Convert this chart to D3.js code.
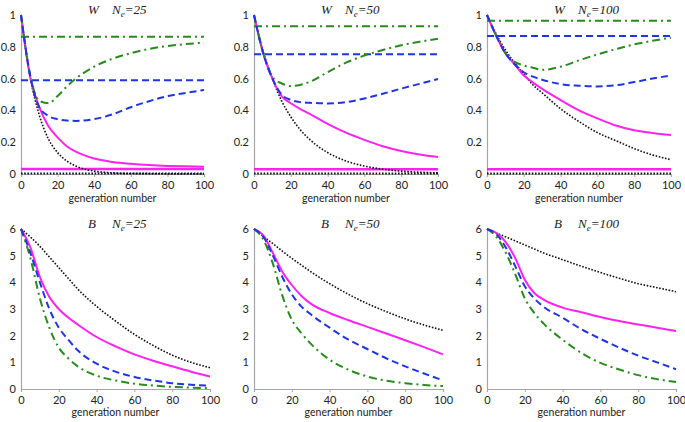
<!DOCTYPE html>
<html><head><meta charset="utf-8">
<script src="https://cdn.jsdelivr.net/npm/d3@7"></script>
<style>
body{margin:0;background:#fff;}
svg{display:block;}
.tick text{font-family:Lato,"Open Sans",sans-serif;font-size:11px;fill:#222;}
</style>
</head><body>
<svg id="chart" width="685" height="422"></svg>
<script>
// ---------- data ----------
const gens = [0,5,10,15,20,25,30,40,50,60,70,80,90,100];
const neLabels = ["25","50","100"];
const wTicks = [0,0.2,0.4,0.6,0.8,1];
const bTicks = [0,1,2,3,4,5,6];
const xTicks = [0,20,40,60,80,100];

// W panels (Ne = 25, 50, 100)
const wBlack   = [[1,.61,.37,.22,.135,.082,.05,.018,.007,.003,.002,.001,.001,.001],
                  [1,.77,.60,.46,.36,.28,.22,.135,.082,.05,.03,.018,.011,.007],
                  [1,.88,.78,.70,.63,.56,.51,.41,.33,.26,.21,.16,.12,.09]];
const wMagenta = [[1,.61,.42,.30,.23,.175,.14,.097,.076,.064,.056,.051,.048,.046],
                  [1,.76,.60,.49,.445,.41,.38,.315,.26,.215,.175,.145,.123,.107],
                  [1,.87,.76,.69,.62,.575,.535,.465,.40,.35,.305,.275,.258,.245]];
const wBlue    = [[1,.62,.42,.365,.345,.336,.334,.345,.375,.42,.458,.49,.51,.528],
                  [1,.76,.60,.50,.466,.452,.448,.444,.452,.475,.505,.537,.567,.597],
                  [1,.87,.76,.69,.64,.612,.593,.565,.555,.551,.558,.578,.60,.62]];
const wGreen   = [[1,.62,.46,.445,.49,.55,.60,.675,.725,.76,.787,.805,.817,.826],
                  [1,.76,.61,.57,.553,.56,.578,.64,.70,.745,.78,.81,.832,.85],
                  [1,.87,.76,.705,.683,.668,.655,.675,.715,.752,.785,.815,.838,.857]];
// equilibrium (horizontal) levels in W panels
const wLevelGreen   = [.863,.93,.964];
const wLevelBlue    = [.589,.753,.868];
const wLevelMagenta = [.031,.03,.03];
const wLevelBlack   = [.003,.003,.003];

// B panels (Ne = 25, 50, 100)
const bBlack   = [[6,5.7,5.35,4.95,4.55,4.15,3.75,3.1,2.55,2.05,1.63,1.27,1.0,0.8],
                  [6,5.72,5.45,5.17,4.9,4.65,4.4,3.95,3.55,3.2,2.9,2.63,2.4,2.2],
                  [6,5.85,5.7,5.55,5.4,5.25,5.1,4.85,4.6,4.37,4.15,3.95,3.8,3.65]];
const bMagenta = [[6,5.3,4.2,3.45,3.0,2.68,2.42,1.95,1.6,1.3,1.06,0.85,0.65,0.47],
                  [6,5.75,5.1,4.4,3.9,3.5,3.2,2.85,2.58,2.33,2.08,1.83,1.57,1.3],
                  [6,5.85,5.5,4.9,4.1,3.6,3.35,3.05,2.88,2.7,2.55,2.42,2.3,2.17]];
const bBlue    = [[6,5.1,4.0,3.0,2.3,1.85,1.45,0.95,0.65,0.45,0.32,0.22,0.16,0.13],
                  [6,5.7,5.0,4.2,3.55,3.1,2.8,2.3,1.85,1.5,1.15,0.85,0.58,0.32],
                  [6,5.8,5.3,4.6,3.85,3.4,3.08,2.67,2.24,1.88,1.55,1.25,1.0,0.74]];
const bGreen   = [[6,4.9,3.4,2.3,1.55,1.15,0.85,0.5,0.32,0.2,0.13,0.08,0.05,0.03],
                  [6,5.6,4.7,3.5,2.6,2.1,1.7,1.1,0.72,0.47,0.31,0.22,0.15,0.11],
                  [6,5.7,5.1,4.3,3.4,2.85,2.45,1.85,1.35,0.98,0.73,0.52,0.37,0.26]];

// ---------- drawing ----------
const svg = d3.select("#chart");
const colLeft = [21,254,487];
const colRightTop = [204,438,671];
const colRightBot = [210,443,676];
const styles = {
  black:   {stroke:"#111", width:1.6, dash:"1.6,1.6"},
  magenta: {stroke:"#ff22ee", width:2, dash:null},
  blue:    {stroke:"#1f35e0", width:2, dash:"7,4"},
  green:   {stroke:"#2a8a1e", width:2, dash:"8,4,2,4"}
};

function panel(row, col) {
  const isW = row === 0;
  const x0 = colLeft[col], x1 = isW ? colRightTop[col] : colRightBot[col];
  const yT = isW ? 15 : 229, yB = isW ? 174 : 389;
  const x = d3.scaleLinear().domain([0,100]).range([x0,x1]);
  const y = d3.scaleLinear().domain(isW ? [0,1] : [0,6]).range([yB,yT]);
  const g = svg.append("g");

  // axes
  const xa = g.append("g").attr("transform",`translate(0,${yB})`)
    .call(d3.axisBottom(x).tickValues(xTicks).tickSize(3).tickPadding(4).tickFormat(d3.format("d")));
  const ya = g.append("g").attr("transform",`translate(${x0},0)`)
    .call(d3.axisLeft(y).tickValues(isW ? wTicks : bTicks).tickSize(0).tickPadding(5)
      .tickFormat(isW ? (d => d === 0 || d === 1 ? d3.format("d")(d) : d3.format(".1f")(d)) : d3.format("d")));
  [xa, ya].forEach(a => {
    a.select(".domain").attr("stroke","#a6a6a6").attr("stroke-width",1.2);
    a.selectAll(".tick line").attr("stroke","#a6a6a6");
  });

  const line = d3.line().x((d,i) => x(gens[i])).y(d => y(d)).curve(d3.curveMonotoneX);
  function draw(vals, st) {
    g.append("path").datum(vals).attr("d", line).attr("fill","none")
      .attr("stroke", st.stroke).attr("stroke-width", st.width)
      .attr("stroke-dasharray", st.dash);
  }
  function hline(v, st, w) {
    g.append("line").attr("x1", x(0)).attr("x2", x(100)).attr("y1", y(v)).attr("y2", y(v))
      .attr("stroke", st.stroke).attr("stroke-width", w || st.width)
      .attr("stroke-dasharray", st.dash);
  }
  if (isW) {
    hline(wLevelBlack[col], styles.black, 2);
    hline(wLevelMagenta[col], styles.magenta, 2.5);
    hline(wLevelBlue[col], styles.blue);
    hline(wLevelGreen[col], styles.green);
    draw(wBlack[col], styles.black);
    draw(wMagenta[col], styles.magenta);
    draw(wGreen[col], styles.green);
    draw(wBlue[col], styles.blue);
  } else {
    draw(bBlack[col], styles.black);
    draw(bMagenta[col], styles.magenta);
    draw(bGreen[col], styles.green);
    draw(bBlue[col], styles.blue);
  }

  // title
  const t = g.append("text").attr("y", yT - 1)
    .attr("font-family","'Liberation Serif','Times New Roman',serif")
    .attr("font-style","italic").attr("font-size",13).attr("fill","#222");
  t.append("tspan").attr("x", x0 + 67).text(isW ? "W" : "B");
  t.append("tspan").attr("x", x0 + 91).text("N");
  t.append("tspan").attr("font-size",9).attr("dy",3).text("e");
  t.append("tspan").attr("dy",-3).text("=" + neLabels[col]);

  // x axis title
  g.append("text").attr("x", (x0 + x1) / 2).attr("y", yB + (isW ? 28 : 27))
    .attr("text-anchor","middle").attr("font-family","Lato,'Open Sans',sans-serif")
    .attr("font-size",10.5).attr("fill","#222").text("generation number");
}
for (let r = 0; r < 2; r++) for (let c = 0; c < 3; c++) panel(r, c);
</script>
</body></html>
